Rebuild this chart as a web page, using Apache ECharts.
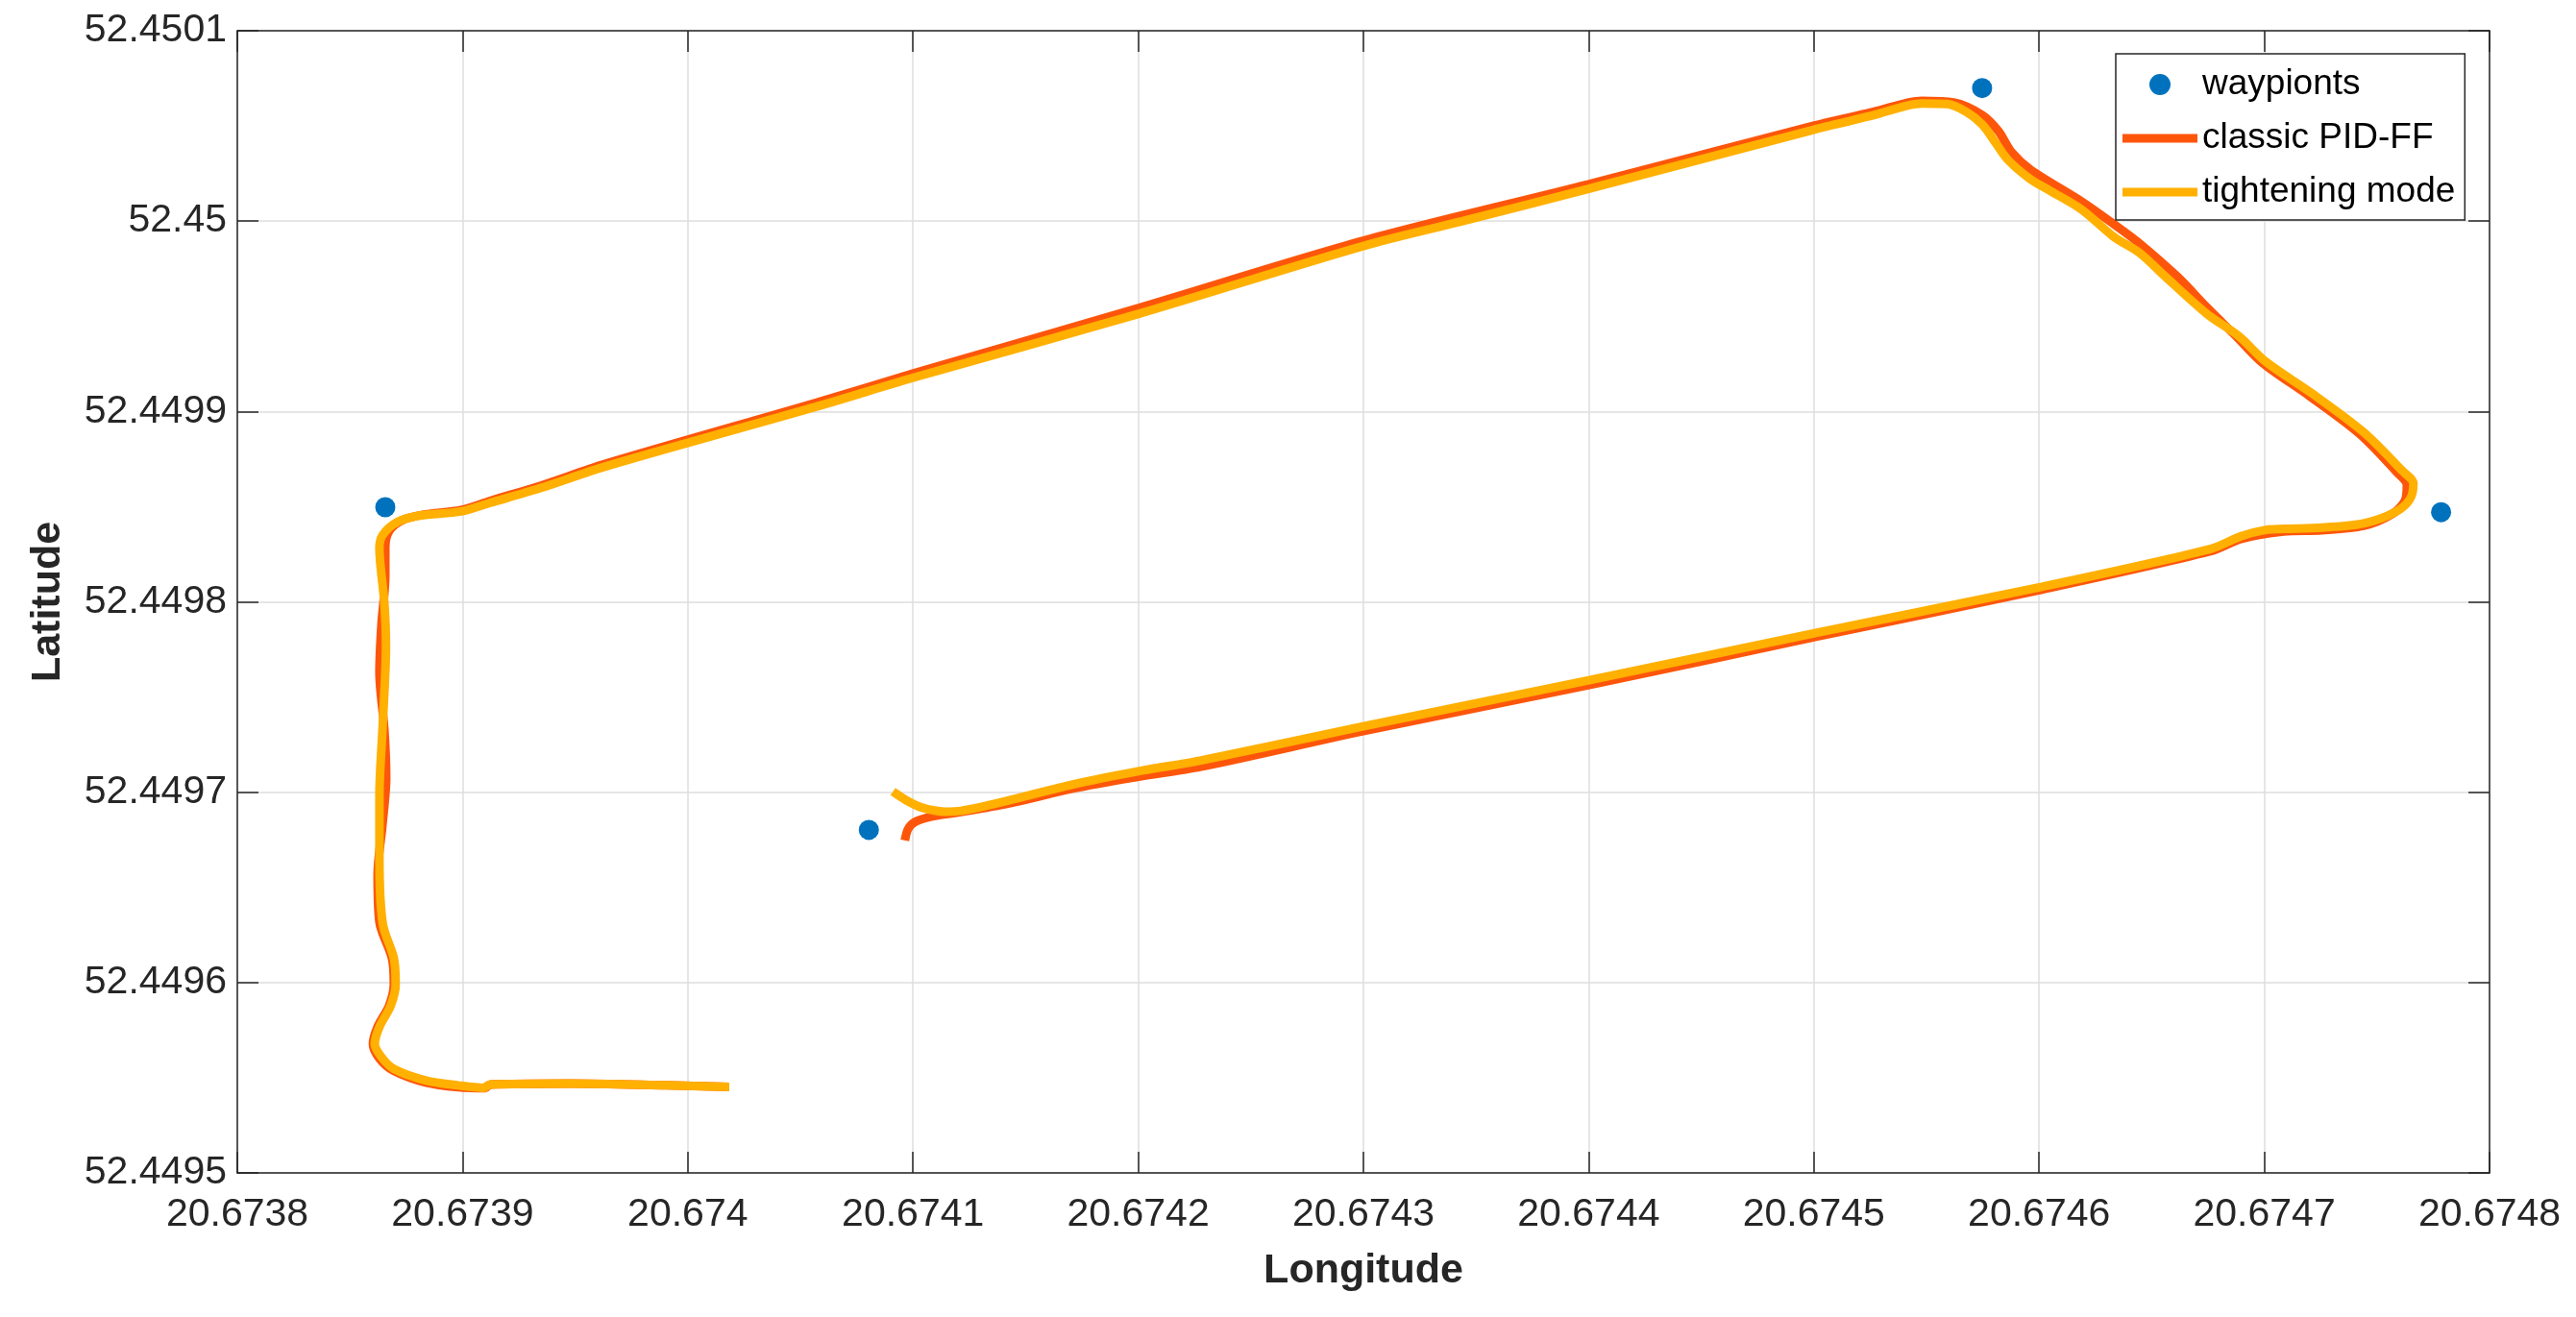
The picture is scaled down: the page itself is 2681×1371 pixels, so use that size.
<!DOCTYPE html>
<html>
<head>
<meta charset="utf-8">
<script src="https://cdn.jsdelivr.net/npm/echarts@6/dist/echarts.min.js"></script>
<style>
  html, body { margin: 0; padding: 0; background: #fff; }
  #main { width: 2681px; height: 1371px; }
</style>
</head>
<body>
<div id="main"></div>
<script>
// waypoints
const waypointLon = [20.6738657, 20.6745747, 20.6747785, 20.6740804];
const waypointLat = [52.4498497, 52.4500699, 52.4498471, 52.4496802];

// classic PID-FF track
const classicLon = [
  20.6740184, 20.6739904, 20.6739477, 20.6739122, 20.6739101, 20.6738981, 20.6738836, 20.6738695,
  20.6738631, 20.6738602, 20.6738623, 20.6738674, 20.6738695, 20.6738687, 20.6738631, 20.6738623,
  20.6738644, 20.6738661, 20.6738653, 20.6738631, 20.6738640, 20.6738657, 20.6738657, 20.6738674,
  20.6738730, 20.6738823, 20.6738994, 20.6739122, 20.6739349, 20.6739634, 20.6740573, 20.6741000,
  20.6742003, 20.6743003, 20.6743999, 20.6744999, 20.6745265, 20.6745479, 20.6745621, 20.6745749,
  20.6745820, 20.6745877, 20.6745962, 20.6746190, 20.6746332, 20.6746446, 20.6746617, 20.6746745,
  20.6746874, 20.6746993, 20.6747198, 20.6747424, 20.6747586, 20.6747633, 20.6747625, 20.6747569,
  20.6747441, 20.6747256, 20.6747086, 20.6746899, 20.6746759, 20.6746012, 20.6745009, 20.6744007,
  20.6743004, 20.6742279, 20.6741995, 20.6741710, 20.6741426, 20.6741213, 20.6741085, 20.6741008,
  20.6740978, 20.6740964
];
const classicLat = [
  52.4495452, 52.4495460, 52.4495469, 52.4495464, 52.4495445, 52.4495450, 52.4495475, 52.4495536,
  52.4495601, 52.4495677, 52.4495768, 52.4495879, 52.4495990, 52.4496126, 52.4496318, 52.4496570,
  52.4496822, 52.4497075, 52.4497327, 52.4497630, 52.4497882, 52.4498134, 52.4498286, 52.4498371,
  52.4498427, 52.4498457, 52.4498482, 52.4498530, 52.4498611, 52.4498725, 52.4499047, 52.4499199,
  52.4499544, 52.4499898, 52.4500193, 52.4500501, 52.4500574, 52.4500632, 52.4500623, 52.4500556,
  52.4500472, 52.4500363, 52.4500270, 52.4500102, 52.4499984, 52.4499883, 52.4499705, 52.4499547,
  52.4499396, 52.4499254, 52.4499083, 52.4498881, 52.4498684, 52.4498614, 52.4498533, 52.4498462,
  52.4498399, 52.4498376, 52.4498369, 52.4498331, 52.4498265, 52.4498064, 52.4497816, 52.4497564,
  52.4497322, 52.4497134, 52.4497080, 52.4497019, 52.4496941, 52.4496896, 52.4496873, 52.4496843,
  52.4496806, 52.4496747
];

// tightening mode track
const tightLon = [
  20.6740184, 20.6739904, 20.6739477, 20.6739122, 20.6739093, 20.6738980, 20.6738838, 20.6738695,
  20.6738639, 20.6738610, 20.6738631, 20.6738681, 20.6738703, 20.6738695, 20.6738646, 20.6738631,
  20.6738631, 20.6738646, 20.6738660, 20.6738653, 20.6738631, 20.6738646, 20.6738710, 20.6738809,
  20.6738994, 20.6739122, 20.6739349, 20.6739634, 20.6740573, 20.6741000, 20.6742003, 20.6743003,
  20.6743445, 20.6743999, 20.6744999, 20.6745265, 20.6745479, 20.6745593, 20.6745678, 20.6745749,
  20.6745806, 20.6745863, 20.6745962, 20.6746047, 20.6746190, 20.6746332, 20.6746446, 20.6746559,
  20.6746745, 20.6746887, 20.6747007, 20.6747214, 20.6747441, 20.6747612, 20.6747662, 20.6747646,
  20.6747582, 20.6747441, 20.6747256, 20.6747086, 20.6747007, 20.6746899, 20.6746759, 20.6746012,
  20.6745009, 20.6744007, 20.6743004, 20.6742279, 20.6741995, 20.6741710, 20.6741426, 20.6741213,
  20.6741141, 20.6741042, 20.6740971, 20.6740911
];
const tightLat = [
  52.4495452, 52.4495460, 52.4495469, 52.4495464, 52.4495447, 52.4495460, 52.4495485, 52.4495546,
  52.4495610, 52.4495677, 52.4495767, 52.4495879, 52.4495992, 52.4496127, 52.4496307, 52.4496644,
  52.4496981, 52.4497363, 52.4497767, 52.4497992, 52.4498284, 52.4498352, 52.4498419, 52.4498453,
  52.4498475, 52.4498520, 52.4498599, 52.4498711, 52.4499026, 52.4499177, 52.4499513, 52.4499870,
  52.4500001, 52.4500169, 52.4500480, 52.4500556, 52.4500618, 52.4500615, 52.4500573, 52.4500506,
  52.4500413, 52.4500320, 52.4500220, 52.4500161, 52.4500060, 52.4499917, 52.4499833, 52.4499710,
  52.4499513, 52.4499395, 52.4499261, 52.4499093, 52.4498891, 52.4498689, 52.4498622, 52.4498538,
  52.4498472, 52.4498412, 52.4498390, 52.4498383, 52.4498378, 52.4498346, 52.4498277, 52.4498079,
  52.4497837, 52.4497589, 52.4497347, 52.4497167, 52.4497109, 52.4497041, 52.4496957, 52.4496902,
  52.4496898, 52.4496918, 52.4496957, 52.4497003
];

const zip = (xs, ys) => xs.map((x, i) => [x, ys[i]]);
const fmt = v => String(+v.toFixed(4));

const axisColor = '#262626';
const font = 'Liberation Sans';
const red = '#fd560b';
const yellow = '#ffb000';
const lineIcon = 'path://M0,0H78V9H0Z';

const chart = echarts.init(document.getElementById('main'));
chart.setOption({
  animation: false,
  backgroundColor: '#fff',
  grid: { left: 247, top: 32, width: 2344, height: 1189 },
  legend: {
    orient: 'vertical',
    left: 2202,
    top: 56,
    padding: [12, 10, 9, 7],
    itemGap: 16,
    itemWidth: 78,
    itemHeight: 22,
    symbolKeepAspect: true,
    backgroundColor: '#fff',
    borderColor: axisColor,
    borderWidth: 1.5,
    borderRadius: 0,
    textStyle: { fontFamily: font, fontSize: 37, color: '#000', lineHeight: 40 },
    data: [
      { name: 'waypionts', icon: 'circle' },
      { name: 'classic PID-FF', icon: lineIcon, itemStyle: { color: red } },
      { name: 'tightening mode', icon: lineIcon, itemStyle: { color: yellow } }
    ]
  },
  xAxis: [{
    type: 'value', position: 'bottom',
    min: 20.6738, max: 20.6748, interval: 0.0001,
    name: 'Longitude', nameLocation: 'middle', nameGap: 81,
    nameTextStyle: { fontFamily: font, fontSize: 43, fontWeight: 'bold', color: axisColor },
    axisLine: { onZero: false, lineStyle: { color: axisColor, width: 1.5 } },
    axisTick: { inside: true, length: 22, lineStyle: { color: axisColor, width: 1.5 } },
    axisLabel: { margin: 23, fontFamily: font, fontSize: 41, color: axisColor, formatter: fmt, showMinLabel: true, showMaxLabel: true },
    splitLine: { show: true, lineStyle: { color: '#dedede', width: 1.5 } }
  }, {
    type: 'value', position: 'top',
    min: 20.6738, max: 20.6748, interval: 0.0001,
    axisLine: { onZero: false, lineStyle: { color: axisColor, width: 1.5 } },
    axisTick: { inside: true, length: 22, lineStyle: { color: axisColor, width: 1.5 } },
    axisLabel: { show: false },
    splitLine: { show: false }
  }],
  yAxis: [{
    type: 'value', position: 'left',
    min: 52.4495, max: 52.4501, interval: 0.0001,
    name: 'Latitude', nameLocation: 'middle', nameGap: 175, nameRotate: 90,
    nameTextStyle: { fontFamily: font, fontSize: 43, fontWeight: 'bold', color: axisColor },
    axisLine: { onZero: false, lineStyle: { color: axisColor, width: 1.5 } },
    axisTick: { inside: true, length: 22, lineStyle: { color: axisColor, width: 1.5 } },
    axisLabel: { margin: 11, fontFamily: font, fontSize: 41, color: axisColor, formatter: fmt, showMinLabel: true, showMaxLabel: true },
    splitLine: { show: true, lineStyle: { color: '#dedede', width: 1.5 } }
  }, {
    type: 'value', position: 'right',
    min: 52.4495, max: 52.4501, interval: 0.0001,
    axisLine: { onZero: false, lineStyle: { color: axisColor, width: 1.5 } },
    axisTick: { inside: true, length: 22, lineStyle: { color: axisColor, width: 1.5 } },
    axisLabel: { show: false },
    splitLine: { show: false }
  }],
  series: [{
    name: 'waypionts',
    type: 'scatter',
    symbol: 'circle',
    symbolSize: 21,
    itemStyle: { color: '#0072bd', opacity: 1 },
    data: zip(waypointLon, waypointLat)
  }, {
    name: 'classic PID-FF',
    type: 'line',
    symbol: 'none',
    smooth: 0.3,
    lineStyle: { color: red, width: 9 },
    itemStyle: { color: red },
    data: zip(classicLon, classicLat)
  }, {
    name: 'tightening mode',
    type: 'line',
    symbol: 'none',
    smooth: 0.3,
    lineStyle: { color: yellow, width: 9 },
    itemStyle: { color: yellow },
    data: zip(tightLon, tightLat)
  }]
});
</script>
</body>
</html>
